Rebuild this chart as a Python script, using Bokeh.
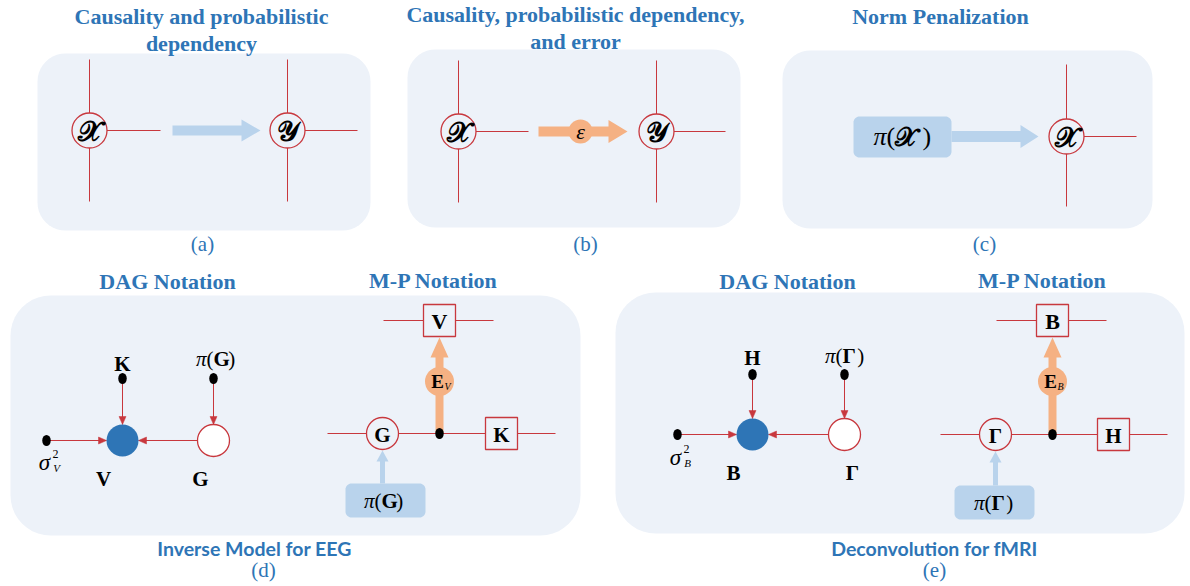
import math
from bokeh.plotting import figure
from bokeh.models import Range1d
from bokeh.core.properties import value
from bokeh.embed import file_html
from bokeh.resources import INLINE

# ---------------- content ----------------
top_titles = ["Causality and probabilistic", "dependency",
              "Causality, probabilistic dependency,", "and error",
              "Norm Penalization"]
sub_titles = ["DAG Notation", "M-P Notation", "DAG Notation", "M-P Notation"]
captions = ["Inverse Model for EEG", "Deconvolution for fMRI"]
panel_letters = ["(a)", "(b)", "(c)", "(d)", "(e)"]
script_X, script_Y = "\U0001D4B3", "\U0001D4B4"
cross_labels = [script_X, script_Y, script_X, script_Y, script_X]
dag_dot_labels = ["K", "H"]
dag_filled_labels = ["V", "B"]
dag_open_labels = ["G", "\u0393"]
sigma_subs = ["V", "B"]
mp_square_top = ["V", "B"]
mp_square_right = ["K", "H"]
mp_error_sub = ["V", "B"]

# ---------------- layout (screen-pixel geometry) ----------------
W, H = 1186, 582
BLUE = "#2e75b6"
RED = "#c8383e"
BOXBG = "#edf2f9"
LIGHTBLUE = "#b9d3ec"
ORANGE = "#f5b183"
SERIF = value("Liberation Serif")
SANS = value("Lato")
SCRIPT = value("DejaVu Sans")

p = figure(width=W, height=H, x_range=Range1d(0, W), y_range=Range1d(H, 0),
           output_backend="svg", toolbar_location=None,
           x_axis_location=None, y_axis_location=None, min_border=0)
p.grid.visible = False
p.outline_line_color = None
p.background_fill_color = "white"


def rrect(x0, y0, x1, y1, r, n=10):
    xs, ys = [], []
    corners = [(x1 - r, y0 + r, -90, 0), (x1 - r, y1 - r, 0, 90),
               (x0 + r, y1 - r, 90, 180), (x0 + r, y0 + r, 180, 270)]
    for cx, cy, a0, a1 in corners:
        for i in range(n + 1):
            a = math.radians(a0 + (a1 - a0) * i / n)
            xs.append(cx + r * math.cos(a))
            ys.append(cy + r * math.sin(a))
    return xs, ys


def fat_arrow(x0, y0, x1, y1, sw, hw, hl):
    L = math.hypot(x1 - x0, y1 - y0)
    ux, uy = (x1 - x0) / L, (y1 - y0) / L
    nx, ny = -uy, ux
    bx, by = x1 - ux * hl, y1 - uy * hl
    pts = [(x0 + nx * sw / 2, y0 + ny * sw / 2), (bx + nx * sw / 2, by + ny * sw / 2),
           (bx + nx * hw / 2, by + ny * hw / 2), (x1, y1),
           (bx - nx * hw / 2, by - ny * hw / 2), (bx - nx * sw / 2, by - ny * sw / 2),
           (x0 - nx * sw / 2, y0 - ny * sw / 2)]
    return [q[0] for q in pts], [q[1] for q in pts]


def thin_arrow(x0, y0, x1, y1, hl=8, hw=7):
    p.segment(x0=[x0], y0=[y0], x1=[x1], y1=[y1], line_color=RED, line_width=1)
    xs, ys = fat_arrow(x0, y0, x1, y1, 0.0001, hw, hl)
    p.patch(xs, ys, fill_color=RED, line_color=RED, line_width=0.5)


def txt(x, y, t, size, font=SERIF, style="normal", color="black", align="center"):
    p.text(x=[x], y=[y], text=[t], text_font=font, text_font_style=style,
           text_font_size=f"{size}px", text_color=color, text_align=align,
           text_baseline="middle")


def pi_label(split, y, inner, size, inner_font=SERIF, inner_style="bold", inner_w=0.70):
    txt(split, y, "\u03c0", size, style="italic", align="right")
    txt(split, y, "(", size, align="left")
    txt(split + size * 0.33, y, inner, size, font=inner_font, style=inner_style, align="left")
    txt(split + size * (0.33 + inner_w), y, ")", size, align="left")


# background boxes
boxes = [(37, 53, 370, 230, 28), (407, 49, 740, 227, 28), (782, 50, 1152, 228, 28),
         (10, 295, 580, 535, 40), (615, 292, 1184, 533, 40)]
for x0, y0, x1, y1, r in boxes:
    xs, ys = rrect(x0, y0, x1, y1, r)
    p.patch(xs, ys, fill_color=BOXBG, line_color=None)

# titles
title_x = [201, 201, 575, 575, 940]
title_y = [16, 43, 14, 41, 16]
for t, x, y in zip(top_titles, title_x, title_y):
    txt(x, y, t, 22, style="bold", color=BLUE)
sub_x = [167, 433, 787, 1042]
sub_y = [281, 280, 281, 280]
for t, x, y in zip(sub_titles, sub_x, sub_y):
    txt(x, y, t, 22, style="bold", color=BLUE)
cap_x = [254, 934]
for t, x in zip(captions, cap_x):
    txt(x, 548, t, 19.5, font=SANS, style="bold", color=BLUE)
letter_x = [202, 585, 984, 263, 934]
letter_y = [243, 243, 243, 569, 569]
for t, x, y in zip(panel_letters, letter_x, letter_y):
    txt(x, y, t, 21, color=BLUE)

# ---- fat arrows of (a), (b), (c)
for (x0, y0, x1, y1, col, sw, hw, hl) in [(172, 130, 260, 130, LIGHTBLUE, 10, 22, 19),
                                          (538, 131, 627, 131, ORANGE, 10, 23, 19),
                                          (951, 136, 1038, 136, LIGHTBLUE, 11, 23, 18)]:
    xs, ys = fat_arrow(x0, y0, x1, y1, sw, hw, hl)
    p.patch(xs, ys, fill_color=col, line_color=None)
p.scatter([580], [131], size=24, fill_color=ORANGE, line_color=None)
txt(580, 131, "\u03b5", 22, style="italic")
xs, ys = rrect(853, 116, 951, 157, 6)
p.patch(xs, ys, fill_color=LIGHTBLUE, line_color=None)
pi_label(886, 136, script_X, 26, inner_font=SCRIPT, inner_style="bold", inner_w=1.05)

# ---- cross nodes
cx = [89, 287, 458, 656, 1066]
cy = [130, 130, 131, 131, 136]
ctop = [59, 59, 60, 60, 64]
cbot = [201, 201, 202, 202, 206]
cright = [160, 357, 528, 725, 1136]
p.segment(x0=cx, y0=ctop, x1=cx, y1=cbot, line_color=RED, line_width=1)
p.segment(x0=cx, y0=cy, x1=cright, y1=cy, line_color=RED, line_width=1)
p.scatter(cx, cy, size=35, fill_color=BOXBG, line_color=RED, line_width=1.3)
for x, y, t in zip(cx, cy, cross_labels):
    txt(x, y + 1, t, 28, font=SCRIPT, style="bold")

# ---- DAG panels (d), (e)
dag = [dict(sig=(46, 440), fill=(122, 440), dot=(122, 378), open=(213, 440), pdot=(213, 378),
            dot_lab_y=363, pi_split=206, pi_y=358, fill_lab=(103, 478), open_lab=(200, 478),
            sig_lab=(44, 462)),
       dict(sig=(677, 434), fill=(752, 434), dot=(752, 374), open=(844, 434), pdot=(844, 374),
            dot_lab_y=357, pi_split=835, pi_y=355, fill_lab=(733, 472), open_lab=(852, 472),
            sig_lab=(675, 457))]
R = 16
for i, d in enumerate(dag):
    sx, sy = d["sig"]; fx, fy = d["fill"]; kx, ky = d["dot"]; ox, oy = d["open"]; px_, py_ = d["pdot"]
    thin_arrow(sx, sy, fx - R, fy)
    thin_arrow(kx, ky, fx, fy - R)
    thin_arrow(ox - R, oy, fx + R, fy)
    thin_arrow(px_, py_, ox, oy - R)
    p.ellipse([sx, kx, px_], [sy, ky, py_], width=8.5, height=11, fill_color="black", line_color=None)
    p.scatter([fx], [fy], size=2 * R, fill_color=BLUE, line_color=None)
    p.scatter([ox], [oy], size=2 * R, fill_color="white", line_color=RED, line_width=1.3)
    txt(kx, d["dot_lab_y"], dag_dot_labels[i], 21, style="bold")
    pi_label(d["pi_split"], d["pi_y"], dag_open_labels[i], 21)
    txt(d["fill_lab"][0], d["fill_lab"][1], dag_filled_labels[i], 21, style="bold")
    txt(d["open_lab"][0], d["open_lab"][1], dag_open_labels[i], 21, style="bold")
    lx, ly = d["sig_lab"]
    txt(lx, ly, "\u03c3", 23, style="italic")
    txt(lx + 11, ly - 9, "2", 12)
    txt(lx + 12, ly + 5, sigma_subs[i], 11, style="italic")

# ---- M-P panels (d), (e)
mp = [dict(sq=(439, 320), sql=383, sqr=493, jn=(439, 433), err_y=381, hl=327, hr=555,
           circ=(382, 433), sq2=(501, 433), box=(345, 483, 425, 517), pi_split=374),
      dict(sq=(1052, 320), sql=996, sqr=1106, jn=(1052, 434), err_y=381, hl=940, hr=1167,
           circ=(995, 434), sq2=(1113, 434), box=(954, 485, 1034, 519), pi_split=984)]
for i, m in enumerate(mp):
    qx, qy = m["sq"]; jx, jy = m["jn"]; gx, gy = m["circ"]; kx, ky = m["sq2"]
    p.segment(x0=[m["sql"], m["hl"]], y0=[qy, jy], x1=[m["sqr"], m["hr"]], y1=[qy, jy],
              line_color=RED, line_width=1)
    xs, ys = fat_arrow(jx, jy, qx, qy + 17, 8, 18, 20)
    p.patch(xs, ys, fill_color=ORANGE, line_color=None)
    p.scatter([jx], [m["err_y"]], size=29, fill_color=ORANGE, line_color=None)
    txt(jx - 2, m["err_y"], "E", 19, style="bold")
    txt(jx + 8, m["err_y"] + 5, mp_error_sub[i], 10, style="italic")
    p.rect([qx, kx], [qy, ky], width=32, height=32, fill_color=BOXBG, line_color=RED, line_width=1.3)
    txt(qx, qy + 1, mp_square_top[i], 22, style="bold")
    txt(kx, ky + 1, mp_square_right[i], 21, style="bold")
    p.scatter([gx], [gy], size=32, fill_color=BOXBG, line_color=RED, line_width=1.3)
    txt(gx, gy + 1, dag_open_labels[i], 21, style="bold")
    p.ellipse([jx], [jy], width=8.5, height=11, fill_color="black", line_color=None)
    bx0, by0, bx1, by1 = m["box"]
    xs, ys = rrect(bx0, by0, bx1, by1, 6)
    p.patch(xs, ys, fill_color=LIGHTBLUE, line_color=None)
    xs, ys = fat_arrow(gx, by0, gx, gy + 17, 5, 12, 11)
    p.patch(xs, ys, fill_color=LIGHTBLUE, line_color=None)
    pi_label(m["pi_split"], (by0 + by1) / 2, dag_open_labels[i], 21)

open("out.html", "w").write(file_html(p, INLINE))
